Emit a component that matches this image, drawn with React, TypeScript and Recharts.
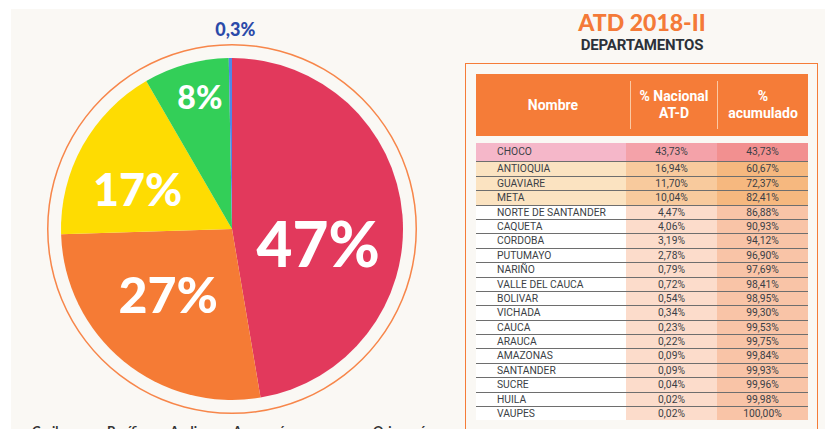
import { PieChart, Pie, Cell } from "recharts"

// regions shown in the pie (share of national AT-D, %)
const regionNames = ["Pacífico", "Andina", "Amazonía", "Orinoquía", "Caribe"]
const regionShares = [47, 27, 17, 8, 0.3]
const legendNames = ["Caribe", "Pacífico", "Andina", "Amazonía", "Orinoquía"]

// department table
const deptNames = [
  "CHOCO", "ANTIOQUIA", "GUAVIARE", "META", "NORTE DE SANTANDER", "CAQUETA",
  "CORDOBA", "PUTUMAYO", "NARIÑO", "VALLE DEL CAUCA", "BOLIVAR", "VICHADA",
  "CAUCA", "ARAUCA", "AMAZONAS", "SANTANDER", "SUCRE", "HUILA", "VAUPES",
]
const deptShare = [
  "43,73%", "16,94%", "11,70%", "10,04%", "4,47%", "4,06%", "3,19%", "2,78%",
  "0,79%", "0,72%", "0,54%", "0,34%", "0,23%", "0,22%", "0,09%", "0,09%",
  "0,04%", "0,02%", "0,02%",
]
const deptCumulative = [
  "43,73%", "60,67%", "72,37%", "82,41%", "86,88%", "90,93%", "94,12%", "96,90%",
  "97,69%", "98,41%", "98,95%", "99,30%", "99,53%", "99,75%", "99,84%", "99,93%",
  "99,96%", "99,98%", "100,00%",
]

const sliceColors = ["#e2395c", "#f57b35", "#fedc02", "#33cf58", "#4f86e8"]
// label placement per slice: radius factor, angle shift, font size, colour
const labelStyle = [
  { r: 0.51, shift: -14, size: 62, color: "#fff" },
  { r: 0.535, shift: -5, size: 50, color: "#fff" },
  { r: 0.6, shift: 6, size: 45, color: "#fff" },
  { r: 0.8, shift: -2, size: 32, color: "#fff" },
  { r: 1.17, shift: -1.5, size: 18, color: "#2b4aa9" },
]

const pieData = regionNames.map((name, i) => ({ name, value: regionShares[i] }))
const ringData = [{ name: "ring", value: 1 }]

const fmt = (v: number) => (v < 1 ? v.toFixed(1).replace(".", ",") : String(Math.round(v))) + "%"

const RADIAN = Math.PI / 180

function renderLabel(props: any) {
  const { cx, cy, midAngle, outerRadius, index, value } = props
  const st = labelStyle[index]
  const a = (midAngle + st.shift) * RADIAN
  const r = outerRadius * st.r
  const x = cx + r * Math.cos(a)
  const y = cy - r * Math.sin(a)
  return (
    <text
      x={x}
      y={y}
      fill={st.color}
      fontSize={st.size}
      fontWeight={900}
      fontFamily="Lato, sans-serif"
      textAnchor="middle"
      dominantBaseline="central"
    >
      {fmt(value)}
    </text>
  )
}

function rowColors(i: number) {
  if (i === 0) return ["#f5b7c9", "#f4a2a9", "#f29090"]
  if (i < 4) return ["#fbe3c1", "#f8ca9d", "#f6b87f"]
  return ["#ffffff", "#fcdccb", "#f9c4a7"]
}

export default function App() {
  return (
    <div
      style={{
        position: "relative",
        width: 825,
        height: 429,
        overflow: "hidden",
        background: "#ffffff",
        fontFamily: "Roboto, sans-serif",
      }}
    >
      <style>{`body{margin:0}`}</style>
      <div
        style={{
          position: "absolute",
          left: 11,
          top: 9,
          width: 814,
          height: 420,
          background: "#faf8f4",
        }}
      />

      <div style={{ position: "absolute", left: 0, top: 0 }}>
        <PieChart width={460} height={429}>
          <Pie
            data={ringData}
            dataKey="value"
            cx={227}
            cy={224}
            innerRadius={183.5}
            outerRadius={185}
            fill="#f7864a"
            stroke="none"
            isAnimationActive={false}
          />
          <Pie
            data={pieData}
            dataKey="value"
            cx={227}
            cy={224}
            outerRadius={171}
            startAngle={90}
            endAngle={-270}
            stroke="none"
            labelLine={false}
            label={renderLabel}
            isAnimationActive={false}
          >
            {pieData.map((d, i) => (
              <Cell key={d.name} fill={sliceColors[i]} />
            ))}
          </Pie>
        </PieChart>
      </div>

      {/* bottom legend, cut by the frame as in the source */}
      {legendNames.map((n, i) => (
        <div
          key={n}
          style={{
            position: "absolute",
            left: [32, 107, 170, 233, 373][i],
            top: 423,
            fontSize: 13,
            fontWeight: 700,
            color: "#333",
            fontFamily: "Lato, sans-serif",
          }}
        >
          {n}
        </div>
      ))}

      <div
        style={{
          position: "absolute",
          left: 466,
          width: 352,
          top: 8,
          textAlign: "center",
          color: "#f47a38",
          fontFamily: "Lato, sans-serif",
          fontWeight: 900,
          fontSize: 23,
          lineHeight: "28px",
        }}
      >
        ATD 2018-II
      </div>
      <div
        style={{
          position: "absolute",
          left: 466,
          width: 352,
          top: 36,
          textAlign: "center",
          color: "#2c3139",
          fontWeight: 700,
          fontSize: 15,
          lineHeight: "19px",
          letterSpacing: -0.2,
        }}
      >
        DEPARTAMENTOS
      </div>

      <div
        style={{
          position: "absolute",
          left: 465,
          top: 63,
          width: 351,
          height: 380,
          border: "1.5px solid #f57c38",
        }}
      />

      <div
        style={{
          position: "absolute",
          left: 476,
          top: 74,
          width: 332,
          height: 62,
          background: "#f57c38",
          color: "#fff",
          fontWeight: 700,
          fontSize: 14,
          display: "flex",
          alignItems: "center",
          textAlign: "center",
          lineHeight: "17px",
        }}
      >
        <div style={{ width: 154 }}>Nombre</div>
        <div style={{ width: 1, height: 48, background: "#fbc9a3" }} />
        <div style={{ width: 86 }}>
          % Nacional
          <br />
          AT-D
        </div>
        <div style={{ width: 1, height: 48, background: "#fbc9a3" }} />
        <div style={{ width: 90 }}>
          %
          <br />
          acumulado
        </div>
      </div>

      <div style={{ position: "absolute", left: 476, top: 143, width: 332 }}>
        {deptNames.map((name, i) => {
          const c = rowColors(i)
          const h = i === 0 ? 18.4 : 14.4
          return (
            <div
              key={name}
              style={{
                display: "flex",
                height: h,
                lineHeight: `${h}px`,
                fontSize: 10.3,
                color: "#3b3f46",
                boxSizing: "border-box",
                borderTop: i === 0 ? "none" : "1px solid #6e6e6e",
              }}
            >
              <div style={{ width: 150, background: c[0], paddingLeft: 21, boxSizing: "border-box" }}>
                {name}
              </div>
              <div style={{ width: 91, background: c[1], textAlign: "center" }}>{deptShare[i]}</div>
              <div style={{ width: 91, background: c[2], textAlign: "center" }}>{deptCumulative[i]}</div>
            </div>
          )
        })}
      </div>
    </div>
  )
}
